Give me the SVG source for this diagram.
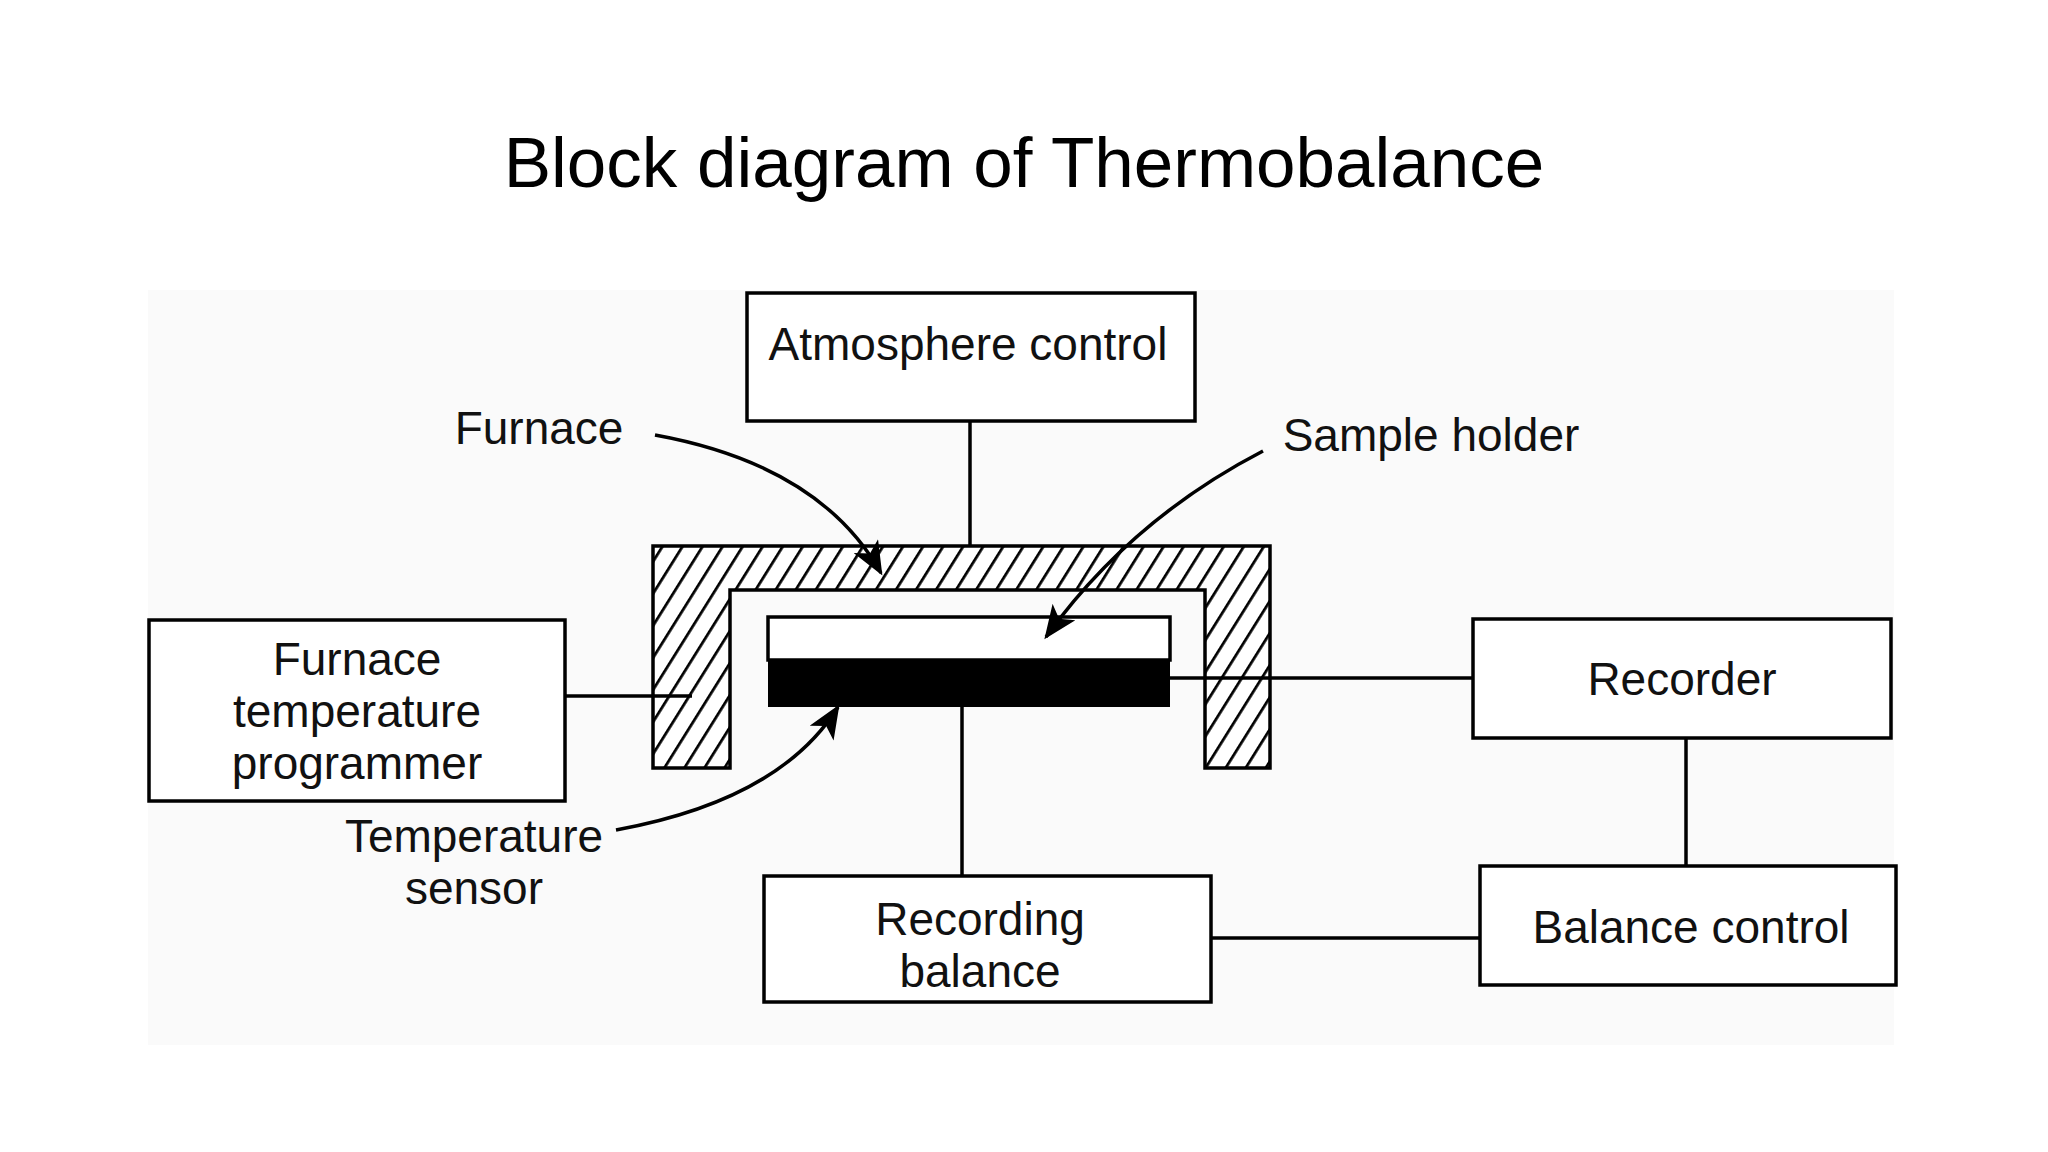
<svg xmlns="http://www.w3.org/2000/svg" width="2048" height="1152" viewBox="0 0 2048 1152">
<style>
.box{fill:#fff;stroke:#000;stroke-width:3.5}
.t{font-family:"Liberation Sans",Arial,sans-serif;font-size:46px;fill:#111;text-anchor:middle}
.ln{stroke:#000;stroke-width:3.5;fill:none}
</style>
<defs>
<pattern id="hatch" patternUnits="userSpaceOnUse" width="17" height="17" patternTransform="rotate(32)">
<rect width="17" height="17" fill="#fff"/>
<line x1="0" y1="0" x2="0" y2="17" stroke="#000" stroke-width="5.5"/>
</pattern>
<marker id="ah" viewBox="0 0 12 10" refX="11" refY="5" markerWidth="10" markerHeight="8" orient="auto" markerUnits="strokeWidth">
<path d="M0,0 L12,5 L0,10 L3,5 Z" fill="#000"/>
</marker>
</defs>
<rect width="2048" height="1152" fill="#fff"/>
<rect x="148" y="290" width="1746" height="755" fill="#fafafa"/>
<text x="1024" y="187" font-family="Liberation Sans,Arial,sans-serif" font-size="71" text-anchor="middle" fill="#000">Block diagram of Thermobalance</text>
<g id="furnace">
<path d="M653,546 H1270 V768 H1205 V590 H730 V768 H653 Z" fill="url(#hatch)" stroke="#000" stroke-width="3.5"/>
</g>
<g id="sample-holder">
<rect x="768" y="617" width="402" height="43" fill="#fff" stroke="#000" stroke-width="3.5"/>
<rect x="768" y="660" width="402" height="47" fill="#000"/>
</g>
<g id="connectors">
<line class="ln" x1="970" y1="421" x2="970" y2="546"/>
<line class="ln" x1="565" y1="696" x2="692" y2="696"/>
<line class="ln" x1="1170" y1="678" x2="1473" y2="678"/>
<line class="ln" x1="1686" y1="738" x2="1686" y2="866"/>
<line class="ln" x1="1211" y1="938" x2="1480" y2="938"/>
<line class="ln" x1="962" y1="707" x2="962" y2="876"/>
</g>
<g id="atmosphere-control"><rect class="box" x="747" y="293" width="448" height="128"/><text class="t" x="968" y="360">Atmosphere control</text></g>
<g id="furnace-temperature-programmer"><rect class="box" x="149" y="620" width="416" height="181"/>
<text class="t" x="357" y="675">Furnace</text><text class="t" x="357" y="727">temperature</text><text class="t" x="357" y="779">programmer</text></g>
<g id="recorder"><rect class="box" x="1473" y="619" width="418" height="119"/><text class="t" x="1682" y="695">Recorder</text></g>
<g id="balance-control"><rect class="box" x="1480" y="866" width="416" height="119"/><text class="t" x="1691" y="943">Balance control</text></g>
<g id="recording-balance"><rect class="box" x="764" y="876" width="447" height="126"/>
<text class="t" x="980" y="935">Recording</text><text class="t" x="980" y="987">balance</text></g>
<g id="labels">
<text class="t" x="539" y="444">Furnace</text>
<path class="ln" d="M655,435 Q820,465 881,573" marker-end="url(#ah)"/>
<text class="t" x="1431" y="451">Sample holder</text>
<path class="ln" d="M1263,451 Q1130,520 1046,637" marker-end="url(#ah)"/>
<text class="t" x="474" y="852">Temperature</text><text class="t" x="474" y="904">sensor</text>
<path class="ln" d="M616,830 Q780,800 838,707" marker-end="url(#ah)"/>
</g>
</svg>
